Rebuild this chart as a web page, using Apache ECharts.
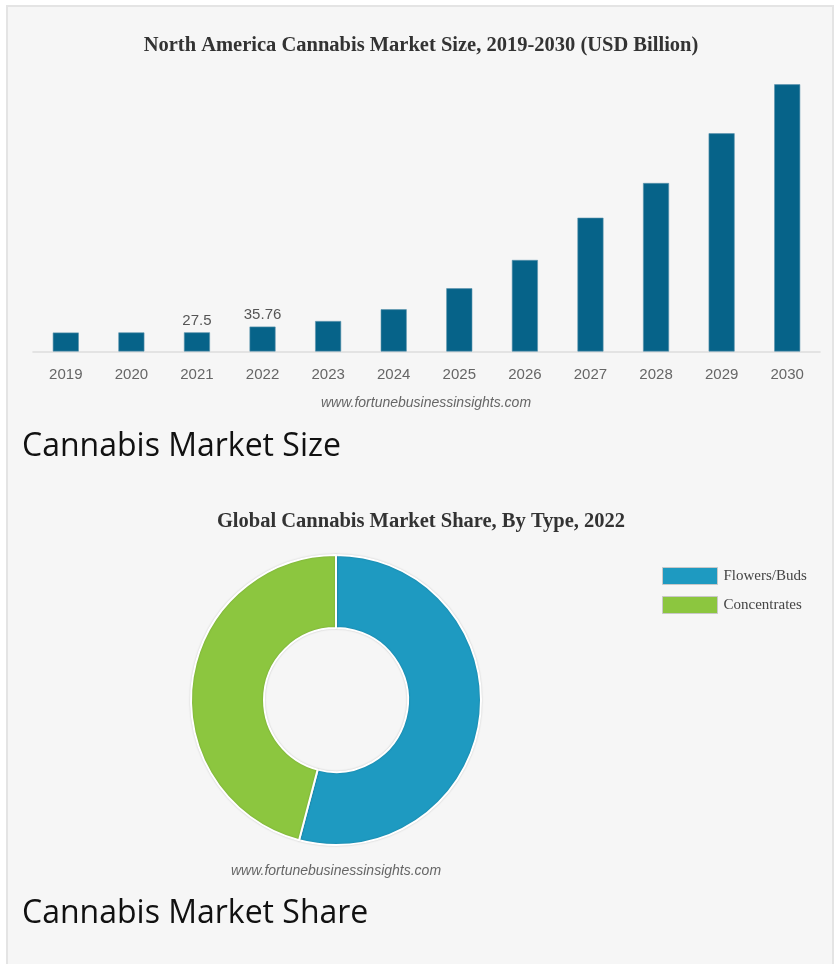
<!DOCTYPE html>
<html>
<head>
<meta charset="utf-8">
<script src="https://cdn.jsdelivr.net/npm/echarts@6/dist/echarts.min.js"></script>
<style>
html,body{margin:0;padding:0;background:#ffffff;width:836px;height:964px;overflow:hidden;}
#frame{position:absolute;left:6px;top:5px;width:824px;height:980px;border:2px solid #e4e4e4;background:#f6f6f6;}
#chart{position:absolute;left:0;top:0;width:836px;height:964px;}
</style>
</head>
<body>
<div id="frame"></div>
<div id="chart"></div>
<script>
// ---- data ----
const years = ['2019','2020','2021','2022','2023','2024','2025','2026','2027','2028','2029','2030'];
const marketSize = [27.2, 27.4, 27.5, 35.76, 43.8, 60.6, 90.8, 131.5, 192.2, 242.1, 313.5, 383.9];
const labeledYears = ['2021','2022'];
const shareTypes = ['Flowers/Buds', 'Concentrates'];
const shareValues = [54.1, 45.9];
const barTitle = 'North America Cannabis Market Size, 2019-2030 (USD Billion)';
const pieTitle = 'Global Cannabis Market Share, By Type, 2022';
const watermark = 'www.fortunebusinessinsights.com';
const heading1 = 'Cannabis Market Size';
const heading2 = 'Cannabis Market Share';

const chart = echarts.init(document.getElementById('chart'), null, {renderer:'canvas'});

function txt(text, x, y, font, fill, align) {
  return {type:'text', x:x, y:y, silent:true,
    style:{text:text, font:font, fill:fill, align:align||'center', textAlign:align||'center',
           verticalAlign:'middle', textVerticalAlign:'middle'}};
}

const option = {
  backgroundColor:'transparent',
  animation:false,
  graphic:[
    txt(barTitle, 421, 45.5, 'bold 20.5px "Liberation Serif", "Times New Roman", serif', '#333333'),
    txt(watermark, 426, 403, 'italic 14px "Liberation Sans", Arial, sans-serif', '#666666'),
    txt(heading1, 22, 447, '32px "Open Sans", "Noto Sans", sans-serif', '#111111', 'left'),
    txt(pieTitle, 421, 521.5, 'bold 20.5px "Liberation Serif", "Times New Roman", serif', '#333333'),
    txt(watermark, 336, 871, 'italic 14px "Liberation Sans", Arial, sans-serif', '#666666'),
    txt(heading2, 22, 914, '32px "Open Sans", "Noto Sans", sans-serif', '#111111', 'left')
  ],
  grid:{left:33, right:16, top:73.1, bottom:964-351.5, containLabel:false},
  xAxis:{
    type:'category', data:years,
    axisLine:{show:true, lineStyle:{color:'#dddddd', width:1.5}},
    axisTick:{show:false},
    axisLabel:{color:'#666666', fontSize:15, fontFamily:'"Liberation Sans", Arial, sans-serif', margin:16}
  },
  yAxis:{type:'value', min:0, max:400, show:false, splitLine:{show:false}},
  legend:{
    orient:'vertical', left:662, top:567, padding:0, itemWidth:55, itemHeight:17, itemGap:11,
    icon:'rect',
    data:shareTypes,
    textStyle:{color:'#444444', fontSize:15, fontFamily:'"Liberation Serif", "Times New Roman", serif', padding:[0,0,0,1]},
    itemStyle:{borderColor:'#c8c8c8', borderWidth:1}
  },
  series:[
    {
      type:'bar', data:marketSize.map((v,i)=>({value:v,
        label:{show: labeledYears.indexOf(years[i])>=0}})),
      barWidth:26,
      itemStyle:{color:'#066389', borderColor:'#5c93ac', borderWidth:0.6},
      label:{position:'top', distance:4, color:'#555555', fontSize:15,
             fontFamily:'"Liberation Sans", Arial, sans-serif', formatter:p=>String(p.value)}
    },
    {
      type:'pie', center:[336,700], radius:[72,145],
      startAngle:90, clockwise:true,
      label:{show:false}, labelLine:{show:false},
      itemStyle:{borderColor:'#ffffff', borderWidth:2, shadowColor:'rgba(0,0,0,0.18)', shadowBlur:2},
      emphasis:{disabled:true},
      data:shareTypes.map((n,i)=>({name:n, value:shareValues[i],
        itemStyle:{color:['#1e9ac1','#8cc63f'][i]}}))
    }
  ]
};
chart.setOption(option);
</script>
</body>
</html>
